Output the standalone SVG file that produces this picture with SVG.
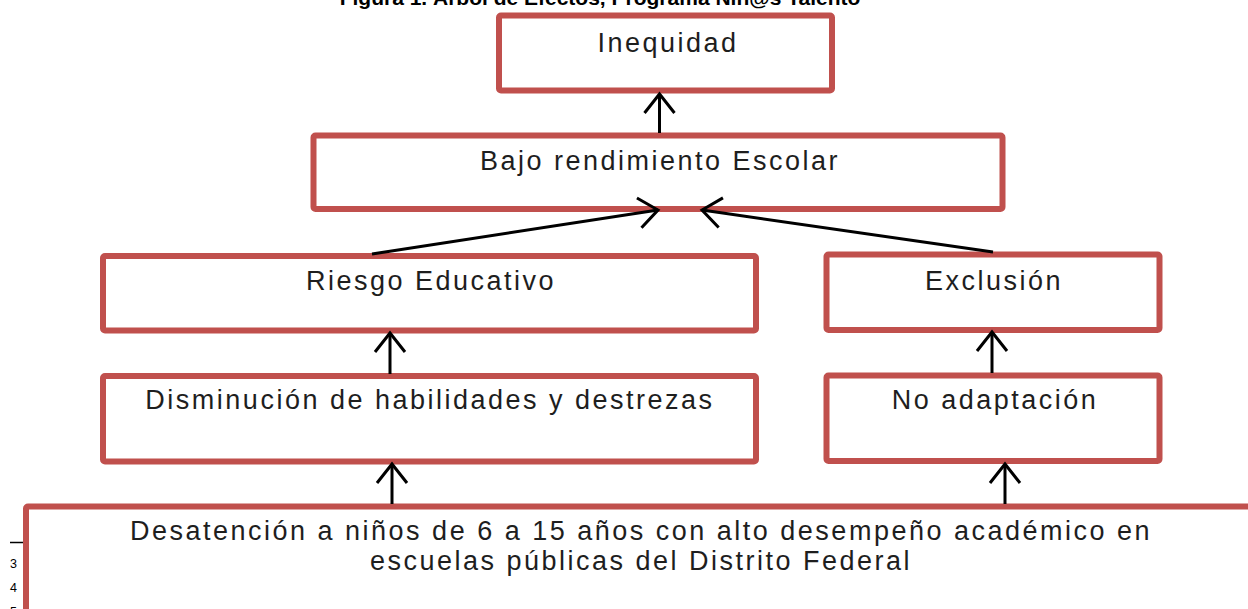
<svg xmlns="http://www.w3.org/2000/svg" width="1248" height="609" viewBox="0 0 1248 609">
<style>
.box{fill:#fff;stroke:#C0504D;stroke-width:6;}
.lbl{font-family:"Liberation Sans",Arial,sans-serif;font-size:27px;letter-spacing:2.5px;fill:#1e1e1e;text-anchor:middle;}
.con{stroke:#000;stroke-width:3;fill:none;marker-end:url(#ah);}
.ttl{font-family:"Liberation Sans",Arial,sans-serif;font-size:21px;font-weight:bold;fill:#000;text-anchor:middle;}
.fn{font-family:"Liberation Sans",Arial,sans-serif;font-size:12.5px;fill:#000;}
</style>
<defs>
<marker id="ah" viewBox="-25 -20 30 40" refX="0" refY="0" markerWidth="30" markerHeight="40" orient="auto" markerUnits="userSpaceOnUse">
<path d="M-19,-15 L0,0 L-19,15" fill="none" stroke="#000" stroke-width="3"/>
</marker>
</defs>
<text class="ttl" x="600" y="5">Figura 1. Árbol de Efectos, Programa Niñ@s Talento</text>
<g id="footnotes">
<line x1="10" y1="542.5" x2="24" y2="542.5" stroke="#000" stroke-width="1.5"/>
<text class="fn" x="10" y="568">3</text>
<text class="fn" x="10" y="592">4</text>
<text class="fn" x="10" y="616">5</text>
</g>
<g id="n-inequidad">
<rect class="box" x="499" y="15.5" width="333" height="75" rx="2"/>
<text class="lbl" x="668" y="52">Inequidad</text>
</g>
<g id="n-bajo">
<rect class="box" x="313.5" y="135.5" width="689" height="73.5" rx="2"/>
<text class="lbl" x="660" y="170">Bajo rendimiento Escolar</text>
</g>
<g id="n-riesgo">
<rect class="box" x="103" y="256" width="653" height="74.5" rx="2"/>
<text class="lbl" x="431" y="290">Riesgo Educativo</text>
</g>
<g id="n-exclusion">
<rect class="box" x="826.5" y="254.5" width="333" height="75.5" rx="2"/>
<text class="lbl" x="994" y="290">Exclusión</text>
</g>
<g id="n-disminucion">
<rect class="box" x="103" y="376" width="653" height="85.5" rx="2"/>
<text class="lbl" x="430" y="409">Disminución de habilidades  y destrezas</text>
</g>
<g id="n-noadaptacion">
<rect class="box" x="826.5" y="375.5" width="333" height="85.5" rx="2"/>
<text class="lbl" x="995" y="409">No adaptación</text>
</g>
<g id="n-desatencion">
<rect class="box" x="26" y="506.5" width="1240" height="130" rx="2"/>
<text class="lbl" x="641" y="540">Desatención a niños de 6 a 15 años con alto desempeño académico en</text>
<text class="lbl" x="641" y="570">escuelas públicas del Distrito Federal</text>
</g>
<g id="connectors">
<line class="con" x1="659.5" y1="133" x2="659.5" y2="94"/>
<line class="con" x1="372" y1="254" x2="658" y2="210"/>
<line class="con" x1="993" y1="252" x2="702" y2="210"/>
<line class="con" x1="390" y1="374" x2="390" y2="333"/>
<line class="con" x1="992" y1="373" x2="992" y2="332"/>
<line class="con" x1="392" y1="504" x2="392" y2="464"/>
<line class="con" x1="1005" y1="504" x2="1005" y2="464"/>
</g>
</svg>
